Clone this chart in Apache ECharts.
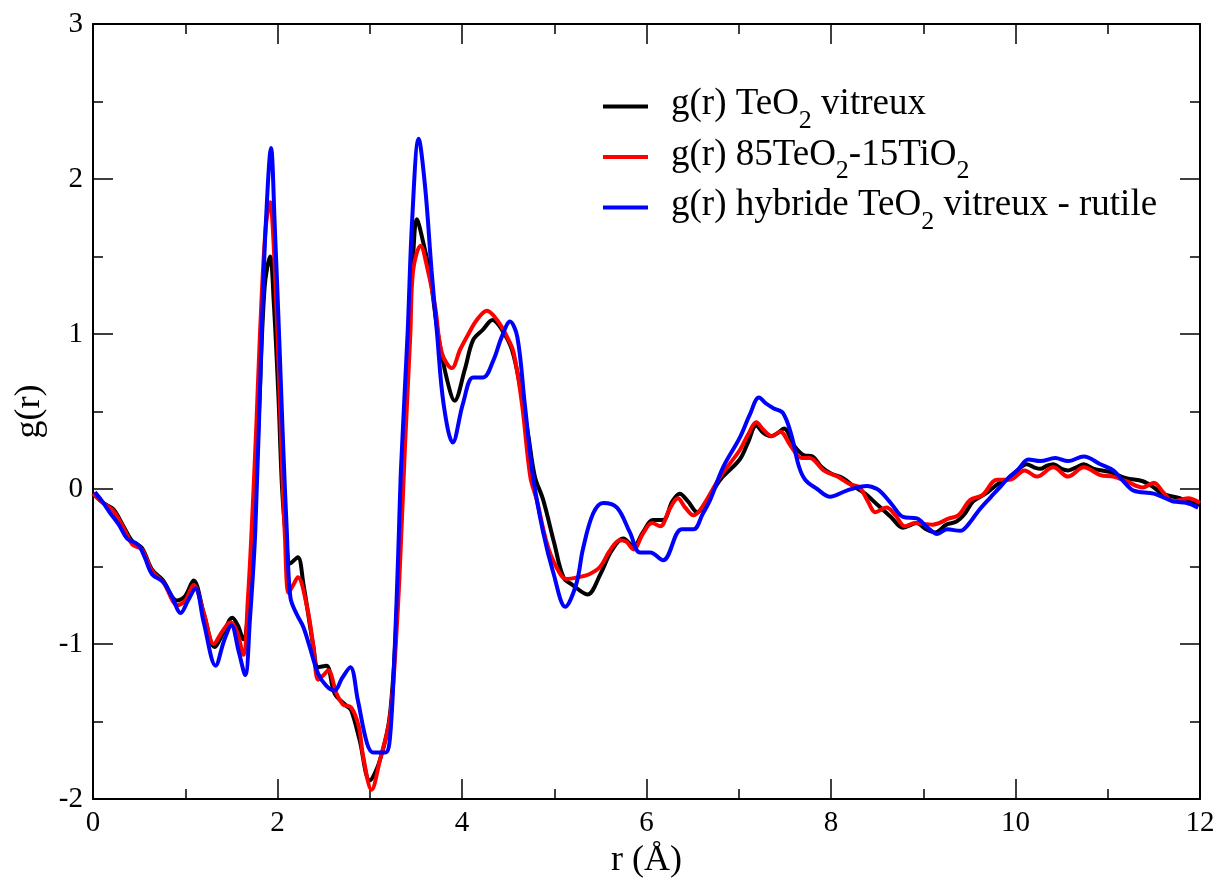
<!DOCTYPE html>
<html>
<head>
<meta charset="utf-8">
<script src="https://cdn.jsdelivr.net/npm/echarts@6/dist/echarts.min.js"></script>
<style>html,body{margin:0;padding:0;background:#fff}#c{width:1217px;height:881px}</style>
</head>
<body>
<div id="c"></div>
<script>
// ---- data (r in Å, g(r)) ----
const seriesNames = ['g(r) TeO2 vitreux', 'g(r) 85TeO2-15TiO2', 'g(r) hybride TeO2 vitreux - rutile'];
const xTicks = [0, 2, 4, 6, 8, 10, 12];
const yTicks = [-2, -1, 0, 1, 2, 3];

const blackData = [[0.00,-0.03],[0.11,-0.09],[0.22,-0.13],[0.33,-0.24],[0.43,-0.34],[0.53,-0.38],[0.64,-0.52],[0.76,-0.59],[0.91,-0.72],[1.00,-0.69],[1.09,-0.59],[1.20,-0.80],[1.32,-1.02],[1.42,-0.92],[1.51,-0.83],[1.57,-0.88],[1.63,-0.97],[1.68,-0.80],[1.74,-0.30],[1.80,0.50],[1.86,1.30],[1.92,1.50],[1.96,1.20],[2.01,0.60],[2.05,0.00],[2.09,-0.30],[2.14,-0.48],[2.22,-0.44],[2.28,-0.61],[2.39,-1.02],[2.44,-1.15],[2.53,-1.14],[2.62,-1.32],[2.75,-1.40],[2.80,-1.43],[2.89,-1.62],[3.00,-1.88],[3.11,-1.75],[3.22,-1.45],[3.30,-0.70],[3.36,0.20],[3.42,1.00],[3.47,1.50],[3.51,1.74],[3.58,1.59],[3.65,1.39],[3.74,1.00],[3.84,0.70],[3.92,0.57],[4.03,0.77],[4.12,0.96],[4.23,1.03],[4.33,1.09],[4.43,1.03],[4.54,0.90],[4.63,0.66],[4.72,0.34],[4.79,0.08],[4.88,-0.07],[5.00,-0.35],[5.10,-0.57],[5.20,-0.62],[5.36,-0.68],[5.50,-0.55],[5.62,-0.40],[5.75,-0.32],[5.86,-0.37],[5.96,-0.28],[6.07,-0.20],[6.18,-0.20],[6.28,-0.08],[6.36,-0.03],[6.45,-0.08],[6.55,-0.15],[6.65,-0.08],[6.80,0.06],[7.01,0.19],[7.10,0.30],[7.19,0.41],[7.27,0.36],[7.35,0.34],[7.42,0.36],[7.49,0.39],[7.60,0.28],[7.70,0.22],[7.80,0.21],[7.90,0.14],[8.00,0.10],[8.13,0.07],[8.24,0.02],[8.37,-0.03],[8.50,-0.10],[8.65,-0.18],[8.78,-0.25],[8.93,-0.22],[9.03,-0.26],[9.13,-0.28],[9.25,-0.23],[9.36,-0.21],[9.45,-0.16],[9.54,-0.08],[9.65,-0.04],[9.72,-0.01],[9.83,0.04],[9.91,0.06],[10.02,0.12],[10.12,0.16],[10.20,0.14],[10.27,0.13],[10.34,0.15],[10.41,0.16],[10.50,0.13],[10.57,0.12],[10.66,0.14],[10.74,0.16],[10.85,0.13],[11.02,0.11],[11.20,0.07],[11.38,0.05],[11.50,0.01],[11.59,-0.03],[11.78,-0.06],[11.90,-0.08],[12.00,-0.10]];

const redData = [[0.00,-0.03],[0.11,-0.09],[0.22,-0.14],[0.33,-0.25],[0.43,-0.36],[0.53,-0.39],[0.64,-0.53],[0.76,-0.60],[0.92,-0.75],[1.00,-0.72],[1.09,-0.62],[1.20,-0.80],[1.31,-1.00],[1.40,-0.92],[1.49,-0.86],[1.56,-0.92],[1.63,-1.07],[1.68,-0.70],[1.72,-0.26],[1.77,0.40],[1.81,1.00],[1.87,1.67],[1.92,1.85],[1.95,1.67],[2.00,1.00],[2.04,0.30],[2.08,-0.30],[2.12,-0.67],[2.17,-0.62],[2.22,-0.57],[2.32,-0.76],[2.39,-1.02],[2.44,-1.23],[2.50,-1.20],[2.55,-1.17],[2.64,-1.32],[2.71,-1.39],[2.80,-1.41],[2.88,-1.53],[2.93,-1.73],[3.02,-1.94],[3.11,-1.75],[3.22,-1.47],[3.30,-0.82],[3.35,-0.18],[3.38,0.25],[3.44,1.00],[3.47,1.41],[3.55,1.57],[3.63,1.41],[3.71,1.17],[3.78,0.88],[3.89,0.78],[3.98,0.90],[4.07,1.00],[4.16,1.09],[4.27,1.15],[4.38,1.09],[4.49,0.98],[4.56,0.88],[4.65,0.55],[4.74,0.08],[4.81,-0.07],[4.92,-0.35],[5.02,-0.50],[5.13,-0.58],[5.25,-0.57],[5.38,-0.55],[5.50,-0.50],[5.60,-0.40],[5.71,-0.33],[5.78,-0.34],[5.86,-0.39],[5.96,-0.29],[6.06,-0.22],[6.15,-0.24],[6.25,-0.13],[6.34,-0.06],[6.42,-0.12],[6.51,-0.17],[6.60,-0.12],[6.80,0.08],[7.01,0.25],[7.10,0.35],[7.19,0.43],[7.27,0.38],[7.36,0.34],[7.45,0.37],[7.56,0.28],[7.68,0.20],[7.77,0.20],[7.92,0.12],[8.07,0.08],[8.21,0.03],[8.31,0.01],[8.40,-0.08],[8.48,-0.15],[8.60,-0.12],[8.70,-0.17],[8.80,-0.24],[8.91,-0.22],[9.10,-0.23],[9.28,-0.19],[9.38,-0.17],[9.51,-0.07],[9.64,-0.04],[9.80,0.06],[9.94,0.06],[10.10,0.12],[10.23,0.08],[10.41,0.14],[10.57,0.08],[10.74,0.14],[10.92,0.09],[11.06,0.08],[11.20,0.05],[11.38,0.01],[11.50,0.04],[11.60,-0.02],[11.71,-0.08],[11.87,-0.06],[12.00,-0.09]];

const blueData = [[0.02,-0.02],[0.10,-0.08],[0.18,-0.15],[0.28,-0.23],[0.37,-0.32],[0.49,-0.36],[0.56,-0.44],[0.64,-0.55],[0.76,-0.60],[0.86,-0.70],[0.95,-0.80],[1.03,-0.72],[1.11,-0.64],[1.20,-0.86],[1.33,-1.14],[1.42,-0.98],[1.50,-0.88],[1.58,-1.05],[1.65,-1.20],[1.70,-0.85],[1.76,-0.26],[1.83,1.03],[1.87,1.67],[1.93,2.20],[1.97,1.70],[2.02,0.95],[2.06,0.30],[2.10,-0.26],[2.14,-0.70],[2.21,-0.81],[2.28,-0.89],[2.35,-1.02],[2.44,-1.19],[2.53,-1.27],[2.62,-1.30],[2.70,-1.22],[2.79,-1.15],[2.87,-1.36],[2.97,-1.64],[3.04,-1.70],[3.17,-1.70],[3.22,-1.60],[3.27,-1.04],[3.31,-0.39],[3.34,0.15],[3.41,1.00],[3.46,1.74],[3.53,2.26],[3.60,1.95],[3.67,1.41],[3.73,1.00],[3.80,0.55],[3.90,0.30],[4.01,0.55],[4.12,0.72],[4.23,0.72],[4.34,0.83],[4.43,0.98],[4.52,1.08],[4.60,0.98],[4.68,0.55],[4.77,0.08],[4.88,-0.28],[4.99,-0.54],[5.12,-0.76],[5.24,-0.61],[5.31,-0.39],[5.42,-0.16],[5.53,-0.09],[5.68,-0.12],[5.82,-0.28],[5.93,-0.41],[6.04,-0.41],[6.18,-0.46],[6.38,-0.26],[6.51,-0.26],[6.61,-0.16],[6.69,-0.07],[6.83,0.14],[7.01,0.33],[7.12,0.48],[7.22,0.59],[7.30,0.55],[7.38,0.52],[7.48,0.49],[7.57,0.35],[7.65,0.15],[7.72,0.06],[7.85,0.00],[7.99,-0.05],[8.17,-0.01],[8.39,0.02],[8.50,0.00],[8.56,-0.03],[8.66,-0.10],[8.78,-0.18],[8.93,-0.19],[9.05,-0.25],[9.15,-0.29],[9.26,-0.26],[9.40,-0.27],[9.50,-0.22],[9.60,-0.14],[9.72,-0.06],[9.83,0.01],[9.92,0.07],[10.02,0.12],[10.14,0.19],[10.27,0.18],[10.43,0.20],[10.57,0.18],[10.74,0.21],[10.92,0.16],[11.06,0.12],[11.17,0.05],[11.28,-0.01],[11.50,-0.03],[11.71,-0.08],[11.86,-0.09],[11.98,-0.12]];

const colors = ['#000000', '#ff0000', '#0000ff'];
const legendRich = [
  '{n|g(r) TeO}{s|2}{n| vitreux}',
  '{n|g(r) 85TeO}{s|2}{n|-15TiO}{s|2}',
  '{n|g(r) hybride TeO}{s|2}{n| vitreux - rutile}'
];

const FONT = '"Liberation Serif", "Times New Roman", serif';
const chart = echarts.init(document.getElementById('c'), null, {renderer: 'canvas'});

function axisCommon(showLabel) {
  return {
    axisLine: {show: true, onZero: false, lineStyle: {color: '#000', width: 2}},
    axisTick: {show: true, inside: true, length: 20, lineStyle: {color: '#000', width: 1.5}},
    minorTick: {show: true, splitNumber: 2, length: 10, lineStyle: {color: '#000', width: 1.5}},
    splitLine: {show: false},
    axisLabel: {show: showLabel, color: '#000', fontFamily: FONT, fontSize: 29, margin: 10}
  };
}

const legends = seriesNames.map((nm, i) => ({
  show: true,
  data: [{name: nm, icon: 'rect', itemStyle: {color: colors[i]}}],
  left: 603,
  top: 86 + i * 50.5,
  padding: 0,
  itemWidth: 45,
  itemHeight: 4,
  selectedMode: false,
  formatter: () => legendRich[i],
  textStyle: {
    color: '#000',
    fontFamily: FONT,
    padding: [0, 0, 0, 18],
    rich: {
      n: {fontFamily: FONT, fontSize: 37, color: '#000', lineHeight: 41, verticalAlign: 'top'},
      s: {fontFamily: FONT, fontSize: 26, color: '#000', lineHeight: 29, padding: [22, 0, 0, 0], verticalAlign: 'top'}
    }
  }
}));

const option = {
  backgroundColor: '#fff',
  animation: false,
  grid: {left: 93, right: 17, top: 24, bottom: 82, containLabel: false, outerBoundsMode: 'none'},
  legend: legends,
  xAxis: [
    Object.assign({type: 'value', min: 0, max: 12, interval: 2, position: 'bottom',
      name: 'r (Å)', nameLocation: 'middle', nameGap: 44,
      nameTextStyle: {color: '#000', fontFamily: FONT, fontSize: 36}}, axisCommon(true)),
    Object.assign({type: 'value', min: 0, max: 12, interval: 2, position: 'top'}, axisCommon(false))
  ],
  yAxis: [
    Object.assign({type: 'value', min: -2, max: 3, interval: 1, position: 'left',
      name: 'g(r)', nameLocation: 'middle', nameGap: 45, nameRotate: 90,
      nameTextStyle: {color: '#000', fontFamily: FONT, fontSize: 36}}, axisCommon(true)),
    Object.assign({type: 'value', min: -2, max: 3, interval: 1, position: 'right'}, axisCommon(false))
  ],
  series: [blackData, redData, blueData].map((d, i) => ({
    name: seriesNames[i],
    type: 'line',
    data: d,
    xAxisIndex: 0,
    yAxisIndex: 0,
    smooth: 0.35,
    showSymbol: false,
    symbol: 'none',
    clip: true,
    lineStyle: {color: colors[i], width: 4},
    itemStyle: {color: colors[i]},
    z: 2 + i
  }))
};
chart.setOption(option);
</script>
</body>
</html>
